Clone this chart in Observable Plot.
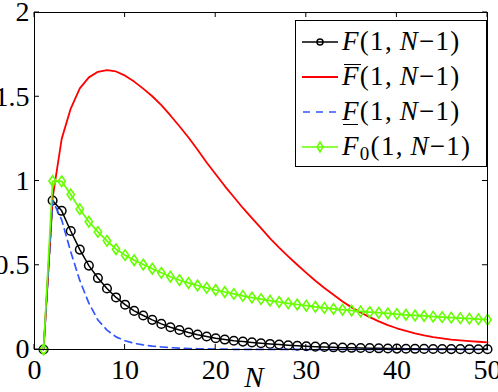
<!DOCTYPE html>
<html><head><meta charset="utf-8">
<script src="https://cdn.jsdelivr.net/npm/d3@7"></script>
<script src="https://cdn.jsdelivr.net/npm/@observablehq/plot@0.6"></script>
<style>
html,body{margin:0;padding:0;background:#fff;}
#chart{position:relative;width:498px;height:392px;overflow:hidden;}
</style></head><body><div id="chart"></div>
<script>
const N = [1,2,3,4,5,6,7,8,9,10,11,12,13,14,15,16,17,18,19,20,21,22,23,24,25,26,27,28,29,30,31,32,33,34,35,36,37,38,39,40,41,42,43,44,45,46,47,48,49,50];
const F = [0,0.884,0.823,0.703,0.593,0.498,0.424,0.362,0.309,0.266,0.229,0.202,0.176,0.152,0.132,0.116,0.101,0.088,0.077,0.067,0.059,0.052,0.047,0.042,0.037,0.033,0.029,0.025,0.022,0.019,0.017,0.015,0.013,0.011,0.010,0.009,0.008,0.007,0.006,0.0053,0.0047,0.0041,0.0036,0.0032,0.0028,0.0025,0.0022,0.0019,0.0017,0.0015];
const Fbar = [0,0.9,1.25,1.43,1.55,1.615,1.648,1.658,1.65,1.625,1.59,1.548,1.503,1.45,1.389,1.325,1.258,1.185,1.11,1.04,0.97,0.905,0.84,0.78,0.72,0.66,0.605,0.553,0.503,0.455,0.408,0.365,0.325,0.285,0.25,0.22,0.192,0.167,0.145,0.126,0.11,0.096,0.084,0.074,0.066,0.059,0.054,0.05,0.046,0.042];
const Funder = [0,0.884,0.77,0.58,0.41,0.275,0.175,0.115,0.075,0.052,0.037,0.027,0.02,0.015,0.011,0.008,0.006,0.0045,0.0033,0.0025,0.0018,0.0013,0.001,0.0007,0.0005,0.0004,0.0003,0.0002,0.0002,0.0001,0.0001,0.0001,0.0001,0.0001,0.0001,0,0,0,0,0,0,0,0,0,0,0,0,0,0,0];
const F0 = [0,1.0,0.998,0.92,0.833,0.758,0.698,0.645,0.595,0.56,0.53,0.504,0.479,0.455,0.432,0.412,0.395,0.38,0.366,0.353,0.341,0.33,0.318,0.308,0.299,0.29,0.282,0.274,0.267,0.26,0.253,0.247,0.241,0.236,0.231,0.226,0.222,0.218,0.214,0.21,0.206,0.202,0.199,0.195,0.192,0.189,0.186,0.183,0.18,0.177];
const xTicks = [0,10,20,30,40,50];
const xTickLabels = ["0","10","20","30","40","50"];
const yTicks = [0,0.5,1,1.5,2];
const yTickLabels = ["0","0.5","1","1.5","2"];
const xLabel = "N";

const colors = {F:"#000000", Fbar:"#ff0000", Funder:"#3355ff", F0:"#66ff00"};
const data = N.map((n,i)=>({N:n, F:F[i], Fbar:Fbar[i], Funder:Funder[i], F0:F0[i]}));

const diamond = {draw(ctx, size){ const r = Math.sqrt(size/Math.PI); const w = r*0.8, h = r*1.15;
  ctx.moveTo(0,-h); ctx.lineTo(w,0); ctx.lineTo(0,h); ctx.lineTo(-w,0); ctx.closePath(); }};

const serif = "Liberation Serif";
const chart = Plot.plot({
  width:498, height:392, marginLeft:34, marginRight:11, marginTop:12, marginBottom:43,
  style:{fontSize:"28px", color:"black", background:"white", overflow:"visible"},
  x:{domain:[0,50], ticks:xTicks, tickSize:0, tickPadding:10, tickFormat:d=>xTickLabels[xTicks.indexOf(d)], label:null},
  y:{domain:[0,2], ticks:yTicks, tickSize:0, tickPadding:5, tickFormat:d=>yTickLabels[yTicks.indexOf(d)], label:null},
  marks:[
    Plot.line(data,{x:"N", y:"F", stroke:colors.F, strokeWidth:1.5}),
    Plot.dot(data,{x:"N", y:"F", r:4.3, stroke:colors.F, strokeWidth:1.5, fill:"none"}),
    Plot.line(data,{x:"N", y:"Fbar", stroke:colors.Fbar, strokeWidth:1.8}),
    Plot.line(data,{x:"N", y:"Funder", stroke:colors.Funder, strokeWidth:1.7, strokeDasharray:"7,5"}),
    Plot.line(data,{x:"N", y:"F0", stroke:colors.F0, strokeWidth:1.7}),
    Plot.dot(data,{x:"N", y:"F0", symbol:diamond, r:4.6, stroke:colors.F0, strokeWidth:1.6, fill:"none"}),
    Plot.frame({stroke:"black", strokeWidth:1})
  ]
});
document.getElementById("chart").appendChild(chart);

const sx = chart.scale("x"), sy = chart.scale("y");
const svg = d3.select(chart);
svg.attr("font-family", serif).style("font-family", serif);
svg.selectAll("text").attr("font-family", serif).style("font-family", serif);

// inward ticks on all four sides, via the plot's scales
const x0 = sx.apply(0), x1 = sx.apply(50), y0 = sy.apply(0), y1 = sy.apply(2);
const tg = svg.append("g").attr("stroke","black").attr("stroke-width",1);
xTicks.forEach(t=>{ const x = sx.apply(t);
  tg.append("line").attr("x1",x).attr("x2",x).attr("y1",y0).attr("y2",y0-5);
  tg.append("line").attr("x1",x).attr("x2",x).attr("y1",y1).attr("y2",y1+5); });
yTicks.forEach(t=>{ const y = sy.apply(t);
  tg.append("line").attr("x1",x0).attr("x2",x0+5).attr("y1",y).attr("y2",y);
  tg.append("line").attr("x1",x1).attr("x2",x1-5).attr("y1",y).attr("y2",y); });

// axis label
svg.append("text").attr("x",254).attr("y",387).attr("text-anchor","middle")
  .style("font-family",serif).attr("font-style","italic").attr("font-size",29).attr("fill","black").text(xLabel);

// legend
const lg = svg.append("g");
lg.append("rect").attr("x",295.5).attr("y",20.5).attr("width",191).attr("height",146)
  .attr("fill","white").attr("stroke","black").attr("stroke-width",1);
const rows = [42,77,112,147];
const lx1 = 302, lx2 = 338, lmx = 320;
lg.append("line").attr("x1",lx1).attr("x2",lx2).attr("y1",rows[0]).attr("y2",rows[0]).attr("stroke",colors.F).attr("stroke-width",1.5);
lg.append("circle").attr("cx",lmx).attr("cy",rows[0]).attr("r",3).attr("fill","none").attr("stroke",colors.F).attr("stroke-width",1.5);
lg.append("line").attr("x1",lx1).attr("x2",lx2).attr("y1",rows[1]).attr("y2",rows[1]).attr("stroke",colors.Fbar).attr("stroke-width",1.8);
lg.append("line").attr("x1",lx1+1).attr("x2",lx2).attr("y1",rows[2]).attr("y2",rows[2]).attr("stroke",colors.Funder).attr("stroke-width",1.7).attr("stroke-dasharray","7,6");
lg.append("line").attr("x1",lx1).attr("x2",lx2).attr("y1",rows[3]).attr("y2",rows[3]).attr("stroke",colors.F0).attr("stroke-width",1.7);
lg.append("path").attr("d",`M${lmx},${rows[3]-5}L${lmx+3},${rows[3]}L${lmx},${rows[3]+5}L${lmx-3},${rows[3]}Z`).attr("fill","none").attr("stroke",colors.F0).attr("stroke-width",1.5);

function label(row, sub){
  const t = lg.append("text").attr("x",342).attr("y",rows[row]+8).attr("text-anchor","start")
    .style("font-family",serif).attr("font-size",27).attr("letter-spacing","1.3px").attr("fill","black");
  t.append("tspan").attr("font-style","italic").text("F");
  if (sub) {
    t.append("tspan").attr("font-size",19).attr("dy",5).text(sub);
    t.append("tspan").attr("dy",-5).text("(1,\u2009");
  } else {
    t.append("tspan").text("(1,\u2009");
  }
  t.append("tspan").attr("font-style","italic").text("N");
  t.append("tspan").text("\u22121)");
}
label(0, null);
label(1, null);
label(2, null);
label(3, "0");
lg.append("line").attr("x1",344).attr("x2",361).attr("y1",rows[1]-12.5).attr("y2",rows[1]-12.5).attr("stroke","black").attr("stroke-width",1);
lg.append("line").attr("x1",343).attr("x2",358).attr("y1",rows[2]+12.5).attr("y2",rows[2]+12.5).attr("stroke","black").attr("stroke-width",1);
</script></body></html>
